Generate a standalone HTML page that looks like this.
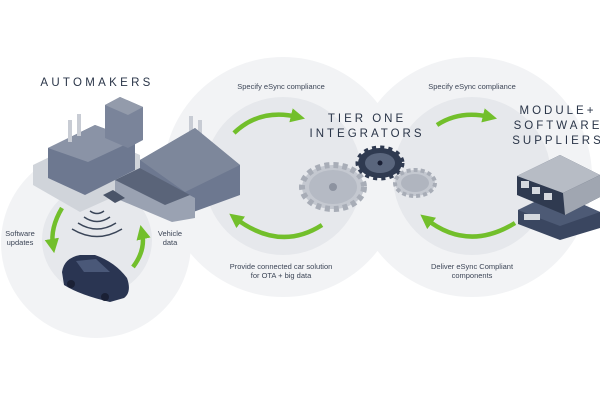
<!DOCTYPE html>
<html><head><meta charset="utf-8"><style>
html,body{margin:0;padding:0;background:#fff;overflow:hidden;}
svg{display:block;}
text{font-family:"Liberation Sans",sans-serif;}
</style></head><body>
<svg width="600" height="400" viewBox="0 0 600 400" xmlns="http://www.w3.org/2000/svg">
<defs>
<marker id="ah" viewBox="0 0 10 10" refX="5" refY="5" markerWidth="3.2" markerHeight="3.2" orient="auto"><path d="M0,0 L10,5 L0,10 z" fill="#72bf2b"/></marker>
</defs>
<circle cx="96" cy="243" r="95" fill="#f2f3f5"/>
<circle cx="283" cy="177" r="120" fill="#f2f3f5"/>
<circle cx="472" cy="177" r="120" fill="#f2f3f5"/>
<circle cx="97" cy="240" r="55" fill="#e6e8ec"/>
<circle cx="283" cy="176" r="79" fill="#e6e8ec"/>
<circle cx="472" cy="176" r="79" fill="#e6e8ec"/>

<g fill="none" stroke="#72bf2b" stroke-width="4.5">
<path d="M234,133 Q260,108 298,117" marker-end="url(#ah)"/>
<path d="M322,225 Q280,252 235,218" marker-end="url(#ah)"/>
<path d="M437,125 Q460,110 490,117" marker-end="url(#ah)"/>
<path d="M515,223 Q468,252 426,219" marker-end="url(#ah)"/>
<path d="M62,208 Q50,228 53,246" marker-end="url(#ah)"/>
<path d="M133,267 Q146,250 142,232" marker-end="url(#ah)"/>
</g>

<text x="97" y="86" font-size="11.5" letter-spacing="3.3" fill="#2a3548" text-anchor="middle">AUTOMAKERS</text>
<text x="367" y="122" font-size="11.5" letter-spacing="3" fill="#2a3548" text-anchor="middle">TIER ONE</text>
<text x="367" y="137" font-size="11.5" letter-spacing="3" fill="#2a3548" text-anchor="middle">INTEGRATORS</text>
<text x="558" y="114" font-size="11.5" letter-spacing="3" fill="#2a3548" text-anchor="middle">MODULE+</text>
<text x="558" y="129" font-size="11.5" letter-spacing="3" fill="#2a3548" text-anchor="middle">SOFTWARE</text>
<text x="558" y="144" font-size="11.5" letter-spacing="3" fill="#2a3548" text-anchor="middle">SUPPLIERS</text>
<g font-size="7.5" fill="#3d4657" text-anchor="middle">
<text x="281" y="89">Specify eSync compliance</text>
<text x="472" y="89">Specify eSync compliance</text>
<text x="281" y="269">Provide connected car solution</text>
<text x="281" y="278">for OTA + big data</text>
<text x="472" y="269">Deliver eSync Compliant</text>
<text x="472" y="278">components</text>
<text x="20" y="236">Software</text>
<text x="20" y="245">updates</text>
<text x="170" y="236">Vehicle</text>
<text x="170" y="245">data</text>
</g>

<g>
<polygon points="33,165 95,135 140,155 140,185 80,212 33,185" fill="#d0d4da"/>
<polygon points="48,148 95,125 135,140 135,170 85,195 48,178" fill="#6d7890"/>
<polygon points="48,148 95,125 135,140 88,162" fill="#8a93a6"/>
<polygon points="105,105 120,97 143,107 143,140 128,148 105,138" fill="#7a849a"/>
<polygon points="105,105 120,97 143,107 128,115" fill="#939bab"/>
<rect x="68" y="120" width="4" height="22" fill="#c8ccd4"/>
<rect x="77" y="114" width="4" height="22" fill="#c8ccd4"/>
<rect x="189" y="116" width="4" height="32" fill="#c8ccd4"/>
<rect x="198" y="120" width="4" height="30" fill="#c8ccd4"/>
<polygon points="140,160 195,128 240,165 240,195 185,215 140,190" fill="#6d7890"/>
<polygon points="140,160 195,128 240,165 185,192" fill="#7d879b"/>
<polygon points="115,180 140,168 195,198 195,218 172,222 115,198" fill="#9aa2b2"/>
<polygon points="115,180 140,168 190,195 165,205" fill="#5a6479"/>
<polygon points="103,195 113,190 125,198 115,203" fill="#4a5468"/>
</g>

<g fill="none" stroke="#3a4558" stroke-width="1.5">
<path d="M90,211 Q97,216 104,211"/>
<path d="M84,217 Q97,226 110,217"/>
<path d="M78,223 Q97,235 116,223"/>
<path d="M72,229 Q97,244 122,229"/>
</g>

<g>
<path d="M62,272 Q64,258 80,255 L95,255 Q115,262 127,278 Q132,292 124,298 L110,302 Q80,295 64,285 Z" fill="#2a3552"/>
<path d="M76,261 L96,259 L110,272 L84,272 Z" fill="#4a5878"/>
<circle cx="71" cy="284" r="4" fill="#1a2035"/>
<circle cx="105" cy="297" r="4" fill="#1a2035"/>
</g>

<g>
<ellipse cx="333" cy="187" rx="31" ry="22" fill="#c4c8d0" stroke="#a8adb7" stroke-width="6" stroke-dasharray="5 4"/>
<ellipse cx="333" cy="187" rx="24" ry="17" fill="#b5bac4"/>
<circle cx="333" cy="187" r="4" fill="#8d93a0"/>
<ellipse cx="380" cy="163" rx="22" ry="15" fill="#2f3a50" stroke="#2f3a50" stroke-width="5" stroke-dasharray="4 4"/>
<ellipse cx="380" cy="163" rx="15" ry="10" fill="#5a667d"/>
<circle cx="380" cy="163" r="2.5" fill="#1a2035"/>
<ellipse cx="415" cy="183" rx="20" ry="13" fill="#c4c8d0" stroke="#a8adb7" stroke-width="4" stroke-dasharray="4 3"/>
<ellipse cx="415" cy="183" rx="14" ry="9" fill="#b0b5bf"/>
</g>

<g>
<polygon points="518,210 555,192 600,212 600,228 560,240 518,224" fill="#3a4660"/>
<polygon points="518,210 555,192 600,212 560,226" fill="#4d5a75"/>
<polygon points="517,176 560,155 600,175 600,197 565,215 517,195" fill="#2f3a50"/>
<polygon points="517,176 560,155 600,175 563,193" fill="#b7bcc5"/>
<polygon points="563,193 600,175 600,197 565,215" fill="#a0a6b1"/>
<rect x="521" y="181" width="8" height="7" fill="#d5d9df"/>
<rect x="532" y="187" width="8" height="7" fill="#d5d9df"/>
<rect x="544" y="193" width="8" height="7" fill="#d5d9df"/>
<rect x="524" y="214" width="16" height="6" fill="#d5d9df"/>
</g>
</svg>
</body></html>
